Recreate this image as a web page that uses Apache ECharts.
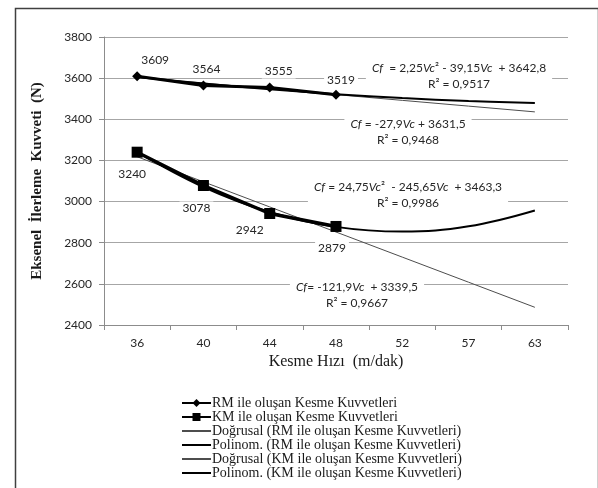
<!DOCTYPE html>
<html>
<head>
<meta charset="utf-8">
<script src="https://cdn.jsdelivr.net/npm/echarts@6/dist/echarts.min.js"></script>
<style>
html, body { margin: 0; padding: 0; background: #fff; }
#chart { width: 598px; height: 488px; }
</style>
</head>
<body>
<div id="chart"></div>
<script>
// kategoriler (kesme hızı, m/dak)
var categories = ['36', '40', '44', '48', '52', '57', '63'];
// ölçülen değerler
var rmValues = [3609, 3564, 3555, 3519];
var kmValues = [3240, 3078, 2942, 2879];
// trend çizgileri
var rmLinear = [3604, 3576, 3548, 3520, 3492, 3464, 3436];
var rmPoly = [3606, 3574, 3546, 3522, 3503, 3489, 3479];
var kmLinear = [3218, 3096, 2974, 2852, 2730, 2608, 2486];
var kmPoly = [3242, 3071, 2949, 2877, 2854, 2880, 2957];
var yTicks = [2400, 2600, 2800, 3000, 3200, 3400, 3600, 3800];

// etiket kaydırmaları
var rmLabelOffsets = [[18, -16], [3, -16], [9, -16], [5, -15]];
var kmLabelOffsets = [[-5, 22], [-7, 23], [-20, 17], [-4, 22]];

var numFont = 'Lato, "Open Sans", sans-serif';
var serifFont = '"Liberation Serif", "DejaVu Serif", serif';

function pointLabels(values, offsets) {
    return values.map(function (v, i) {
        return {
            value: v,
            label: {
                show: true,
                position: 'inside',
                offset: offsets[i],
                formatter: '{c}',
                color: '#262626',
                fontFamily: numFont,
                fontSize: 12,
                backgroundColor: '#fff',
                padding: [1, 3]
            }
        };
    });
}

function eqText(x, y, txt) {
    return {
        type: 'text',
        x: x,
        y: y,
        z: 1,
        silent: true,
        style: {
            text: txt,
            fill: '#262626',
            font: '12px ' + numFont,
            align: 'center',
            verticalAlign: 'middle',
            lineHeight: 16,
            backgroundColor: '#fff',
            padding: [0, 6],
            rich: {
                i: { fontStyle: 'italic', fontFamily: numFont, fontSize: 12, fill: '#262626' }
            }
        }
    };
}

function trendLegend(name) {
    return { name: name, itemStyle: { color: 'rgba(0,0,0,0)', borderWidth: 0 } };
}

var chart = echarts.init(document.getElementById('chart'));

chart.setOption({
    backgroundColor: '#fff',
    animation: false,
    grid: { left: 104, right: 30, top: 37, bottom: 163 },
    xAxis: {
        type: 'category',
        data: categories,
        boundaryGap: true,
        name: 'Kesme Hızı  (m/dak)',
        nameLocation: 'middle',
        nameGap: 29,
        nameTextStyle: { fontFamily: serifFont, fontSize: 16, color: '#1a1a1a' },
        axisLine: { lineStyle: { color: '#8c8c8c' } },
        axisTick: { show: true, length: 5, lineStyle: { color: '#8c8c8c' } },
        axisLabel: { color: '#262626', fontFamily: numFont, fontSize: 12, margin: 12 }
    },
    yAxis: {
        type: 'value',
        min: yTicks[0],
        max: yTicks[yTicks.length - 1],
        interval: 200,
        name: 'Eksenel  İlerleme  Kuvveti  (N)',
        nameLocation: 'middle',
        nameGap: 59,
        nameTextStyle: { fontFamily: serifFont, fontSize: 15, fontWeight: 'bold', color: '#1a1a1a' },
        axisLine: { show: true, lineStyle: { color: '#8c8c8c' } },
        axisTick: { show: true, length: 5, lineStyle: { color: '#8c8c8c' } },
        axisLabel: {
            color: '#262626', fontFamily: numFont, fontSize: 12, margin: 12,
            formatter: function (v) { return String(v); }
        },
        splitLine: { lineStyle: { color: '#a6a6a6' } }
    },
    legend: {
        orient: 'vertical',
        left: 176,
        top: 391,
        height: 130,
        itemWidth: 29,
        itemHeight: 10,
        itemGap: 0,
        textStyle: { fontFamily: serifFont, fontSize: 14, lineHeight: 14, color: '#1a1a1a', padding: [0, 0, 0, -4] },
        data: [
            'RM ile oluşan Kesme Kuvvetleri',
            'KM ile oluşan Kesme Kuvvetleri',
            trendLegend('Doğrusal (RM ile oluşan Kesme Kuvvetleri)'),
            trendLegend('Polinom. (RM ile oluşan Kesme Kuvvetleri)'),
            trendLegend('Doğrusal (KM ile oluşan Kesme Kuvvetleri)'),
            trendLegend('Polinom. (KM ile oluşan Kesme Kuvvetleri)')
        ]
    },
    graphic: [
        {
            type: 'rect',
            left: 13,
            top: 6,
            shape: { width: 583, height: 500 },
            style: { fill: 'none', stroke: '#404040', lineWidth: 1.5 },
            silent: true
        },
        eqText(459, 76, '{i|Cf}  = 2,25{i|Vc}² - 39,15{i|Vc}  + 3642,8\nR² = 0,9517'),
        eqText(408, 132, '{i|Cf} = -27,9{i|Vc} + 3631,5\nR² = 0,9468'),
        eqText(408, 195, '{i|Cf} = 24,75{i|Vc}²  - 245,65{i|Vc}  + 3463,3\nR² = 0,9986'),
        eqText(357, 295, '{i|Cf}= -121,9{i|Vc}  + 3339,5\nR² = 0,9667')
    ],
    series: [
        {
            name: 'Doğrusal (RM ile oluşan Kesme Kuvvetleri)',
            type: 'line',
            data: rmLinear,
            showSymbol: false,
            symbol: 'none',
            lineStyle: { color: '#4d4d4d', width: 1 },
            z: 3
        },
        {
            name: 'Polinom. (RM ile oluşan Kesme Kuvvetleri)',
            type: 'line',
            data: rmPoly,
            smooth: 0.4,
            showSymbol: false,
            symbol: 'none',
            lineStyle: { color: '#000', width: 2 },
            z: 3
        },
        {
            name: 'Doğrusal (KM ile oluşan Kesme Kuvvetleri)',
            type: 'line',
            data: kmLinear,
            showSymbol: false,
            symbol: 'none',
            lineStyle: { color: '#4d4d4d', width: 1 },
            z: 3
        },
        {
            name: 'Polinom. (KM ile oluşan Kesme Kuvvetleri)',
            type: 'line',
            data: kmPoly,
            smooth: 0.4,
            showSymbol: false,
            symbol: 'none',
            lineStyle: { color: '#000', width: 2 },
            z: 3
        },
        {
            name: 'RM ile oluşan Kesme Kuvvetleri',
            type: 'line',
            data: pointLabels(rmValues, rmLabelOffsets),
            symbol: 'diamond',
            symbolSize: 10,
            itemStyle: { color: '#000' },
            lineStyle: { color: '#000', width: 3 },
            z: 4
        },
        {
            name: 'KM ile oluşan Kesme Kuvvetleri',
            type: 'line',
            data: pointLabels(kmValues, kmLabelOffsets),
            symbol: 'rect',
            symbolSize: 11,
            itemStyle: { color: '#000' },
            lineStyle: { color: '#000', width: 3.5 },
            z: 4
        }
    ]
});
</script>
</body>
</html>
